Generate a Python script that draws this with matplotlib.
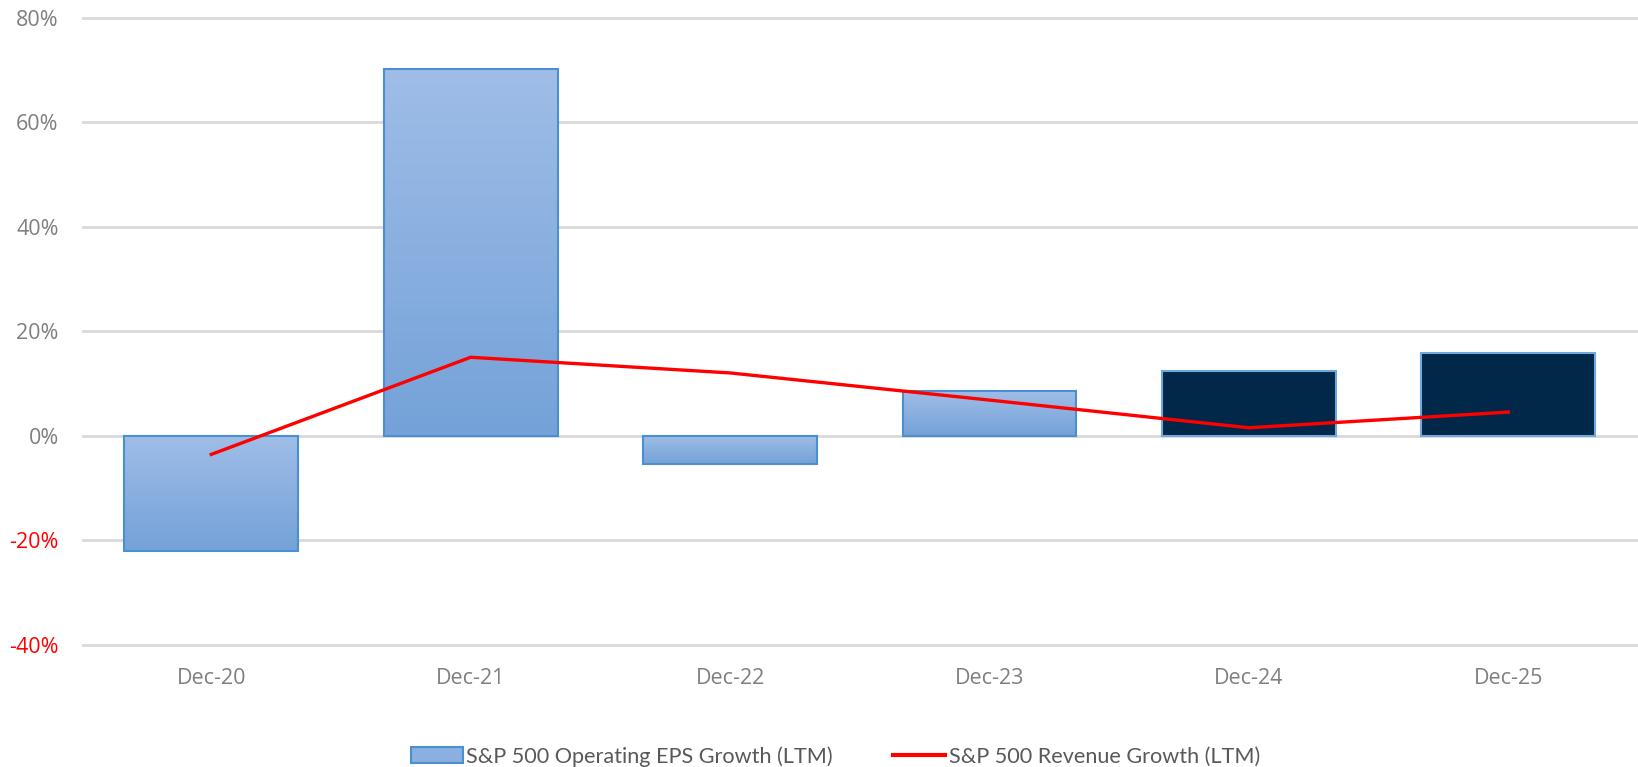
import numpy as np
import matplotlib
matplotlib.use('Agg')
import matplotlib.pyplot as plt
from matplotlib.patches import Patch
from matplotlib.lines import Line2D
from matplotlib.colors import LinearSegmentedColormap

# 数据
categories = ['Dec-20', 'Dec-21', 'Dec-22', 'Dec-23', 'Dec-24', 'Dec-25']
eps_growth = [-22.0, 70.2, -5.4, 8.6, 12.4, 15.8]
revenue_growth = [-3.6, 15.0, 12.0, 6.8, 1.5, 4.5]
estimate = [False, False, False, False, True, True]
y_ticks = [-40, -20, 0, 20, 40, 60, 80]

plt.rcParams['font.family'] = ['Open Sans', 'DejaVu Sans']

fig = plt.figure(figsize=(16.38, 7.67), dpi=100)
ax = fig.add_axes([0.0498, 0.1563, 0.9502, 0.8239])

x = np.arange(len(categories))
width = 0.67
grad = LinearSegmentedColormap.from_list('g', ['#9fbde7', '#74a2d8'])
ramp = np.linspace(0, 1, 100).reshape(-1, 1)

# 柱状图
bars = ax.bar(x, eps_growth, width, color='none', edgecolor='#4a8fd0',
              linewidth=1.5, zorder=3)
for b, est in zip(bars, estimate):
    bx, by = b.get_x(), b.get_y()
    bw, bh = b.get_width(), b.get_height()
    if est:
        b.set_facecolor('#022849')
        b.set_edgecolor('#6fa8dc')
    else:
        top = max(by, by + bh)
        bot = min(by, by + bh)
        im = ax.imshow(ramp, cmap=grad, aspect='auto',
                       extent=[bx, bx + bw, bot, top], origin='upper', zorder=2)
        im.set_clip_path(b)

# 折线
ax.plot(x, revenue_growth, color='#ff0000', linewidth=2.4, zorder=4)

ax.set_xlim(-0.5, len(categories) - 0.5)
ax.set_ylim(-40.5, 80.5)
ax.set_yticks(y_ticks)
ax.set_yticklabels([f'{v}%' for v in y_ticks])
for lab, v in zip(ax.get_yticklabels(), y_ticks):
    lab.set_color('#ff0000' if v < 0 else '#7f7f7f')
ax.set_xticks(x)
ax.set_xticklabels(categories, color='#7f7f7f')
ax.tick_params(axis='both', length=0, labelsize=15.5)
ax.tick_params(axis='x', pad=15)
ax.tick_params(axis='y', pad=16.5)
ax.yaxis.grid(True, color='#d9d9d9', linewidth=2)
ax.set_axisbelow(True)
for s in ax.spines.values():
    s.set_visible(False)

handles = [Patch(facecolor='#8aafe0', edgecolor='#4a8fd0', linewidth=1.5),
           Line2D([0], [0], color='#ff0000', linewidth=3)]
labels = ['S&P 500 Operating EPS Growth (LTM)', 'S&P 500 Revenue Growth (LTM)']
fig.legend(handles, labels, loc='center', bbox_to_anchor=(0.51, 0.014), ncol=2,
           frameon=False, handlelength=2.4, handletextpad=0.15, columnspacing=2.8,
           prop={'family': ['Lato', 'DejaVu Sans'], 'size': 15.6},
           labelcolor='#595959')

fig.savefig('out.png', dpi=100)
